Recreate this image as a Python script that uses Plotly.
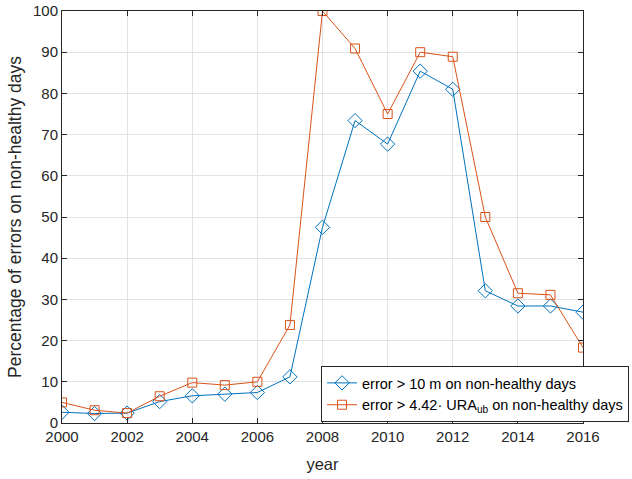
import plotly.graph_objects as go

years = list(range(2000, 2017))
err_10m = [2.6, 2.3, 2.4, 5.2, 6.6, 7.0, 7.4, 11.2, 47.5, 73.4, 67.7, 85.4, 81.0, 32.1, 28.4, 28.4, 26.9]
err_ura = [5.0, 3.1, 2.4, 6.5, 9.8, 9.2, 10.0, 23.8, 100.0, 90.9, 75.0, 90.0, 88.9, 50.0, 31.5, 31.1, 18.3]

name1 = "error > 10 m on non-healthy days"
name2 = "error > 4.42\u00b7 URA<sub>ub</sub> on non-healthy days"

fig = go.Figure()
fig.add_trace(go.Scatter(x=years, y=err_10m, mode="lines+markers", name=name1,
                         line=dict(color="#0072BD", width=1),
                         marker=dict(symbol="diamond-open", size=11, color="#0072BD", line=dict(width=1))))
fig.add_trace(go.Scatter(x=years, y=err_ura, mode="lines+markers", name=name2,
                         line=dict(color="#D95319", width=1),
                         marker=dict(symbol="square-open", size=9, color="#D95319", line=dict(width=1))))

axis_common = dict(showline=True, linecolor="#262626", linewidth=1, mirror="ticks",
                   ticks="inside", ticklen=5, tickcolor="#262626",
                   showgrid=True, gridcolor="#E3E3E3", gridwidth=1, zeroline=False,
                   automargin=False,
                   tickfont=dict(family="Liberation Sans, Arial", size=15, color="#262626"))

fig.update_layout(
    width=632, height=479,
    margin=dict(l=62, r=49, t=11, b=56, autoexpand=False),
    paper_bgcolor="white", plot_bgcolor="white",
    font=dict(family="Liberation Sans, Arial", size=15, color="#262626"),
    xaxis=dict(range=[2000, 2016], dtick=2, tick0=2000,
               title=dict(text="year", font=dict(size=16.5), standoff=14), **axis_common),
    yaxis=dict(range=[0, 100], dtick=10,
               title=dict(text="Percentage of errors on non-healthy days", font=dict(size=17.5), standoff=6),
               **axis_common),
    legend=dict(xref="container", yref="container", x=0.508, y=0.236, xanchor="left", yanchor="top",
                bgcolor="white", bordercolor="#262626", borderwidth=1,
                font=dict(family="Liberation Sans, Arial", size=14.5, color="#000000"),
                tracegroupgap=0, itemwidth=30),
    showlegend=True,
)

fig.write_html("out.html")
